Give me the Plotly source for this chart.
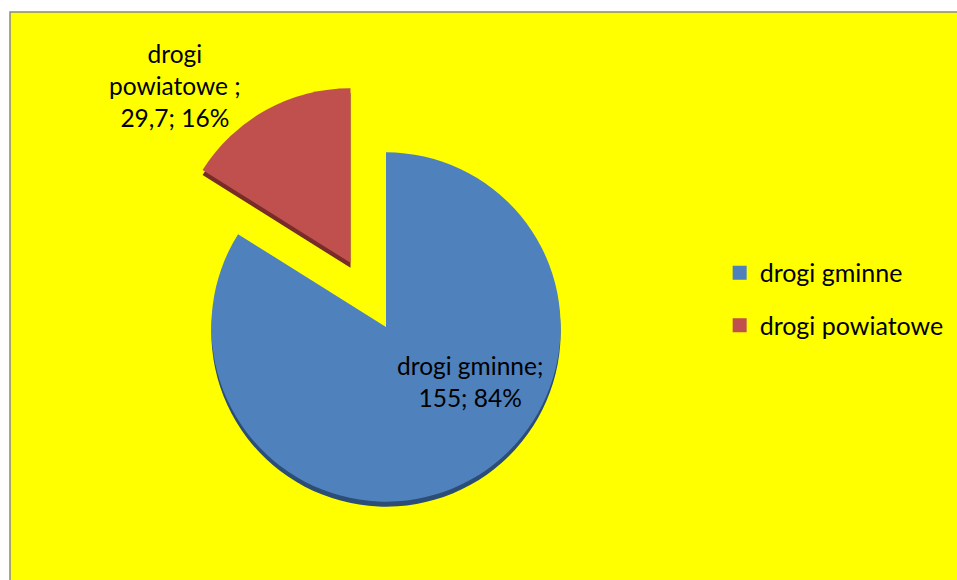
import plotly.graph_objects as go

labels = ["drogi gminne", "drogi powiatowe"]
values = [155, 29.7]
label_names = ["drogi gminne;", "drogi<br>powiatowe ;"]
colors = ["#4F81BD", "#C0504D"]
shadow_colors = ["#2C4D75", "#772C2A"]
pulls = [0, 0.42]

total = sum(values)

def fmt(v):
    s = ("%g" % v).replace(".", ",")
    return s

FONT = "Lato"
W, H = 957, 580

fig = go.Figure()

# pie domain (paper units)
cx, cy, half = 386, 327, 248
dom_x = [(cx - half) / W, (cx + half) / W]
dom_y = [1 - (cy + half) / H, 1 - (cy - half) / H]
sh = 5 / H

# shadow (3D thickness)
fig.add_trace(go.Pie(
    labels=labels, values=values, sort=False, direction="clockwise", rotation=0,
    pull=pulls, marker=dict(colors=shadow_colors, line=dict(width=0)),
    textinfo="none", hoverinfo="skip", showlegend=False,
    domain=dict(x=dom_x, y=[max(0, dom_y[0] - sh), dom_y[1] - sh]),
))
fig.add_trace(go.Pie(
    labels=labels, values=values, sort=False, direction="clockwise", rotation=0,
    pull=pulls, marker=dict(colors=colors, line=dict(width=0)),
    textinfo="none", showlegend=False,
    domain=dict(x=dom_x, y=dom_y),
))

# legend via dummy traces
for lab, col in zip(labels, colors):
    fig.add_trace(go.Scatter(
        x=[None], y=[None], mode="markers", name=lab, legendgroup=lab,
        marker=dict(symbol="square", size=14, color=col),
    ))

# data labels
label_pos = [(470, 381), (175, 86)]
for name, v, (px, py) in zip(label_names, values, label_pos):
    pct = round(v / total * 100)
    fig.add_annotation(
        x=px / W, y=1 - py / H, xref="paper", yref="paper", showarrow=False,
        xanchor="center", yanchor="middle",
        text=f"{name}<br>{fmt(v)}; {pct}%", align="center",
        font=dict(family=FONT, size=24.5, color="#000000"),
    )

fig.update_layout(
    width=W, height=H,
    margin=dict(l=0, r=0, t=0, b=0),
    paper_bgcolor="#FFFFFF",
    plot_bgcolor="rgba(0,0,0,0)",
    xaxis=dict(visible=False), yaxis=dict(visible=False),
    showlegend=True,
    legend=dict(
        x=0.752, y=0.569, xanchor="left", yanchor="top",
        font=dict(family=FONT, size=25, color="#000000"),
        tracegroupgap=17, bgcolor="rgba(0,0,0,0)", itemwidth=30,
    ),
    shapes=[dict(
        type="rect", xref="paper", yref="paper",
        x0=10 / W, x1=1.01, y0=-0.01, y1=1 - 12 / H,
        fillcolor="#FFFF00", line=dict(color="#888888", width=1.5), layer="below",
    )],
)

fig.write_html(
    "out.html",
    config={"displayModeBar": False},
    post_script="document.body.style.margin='0';document.body.style.overflow='hidden';",
)
